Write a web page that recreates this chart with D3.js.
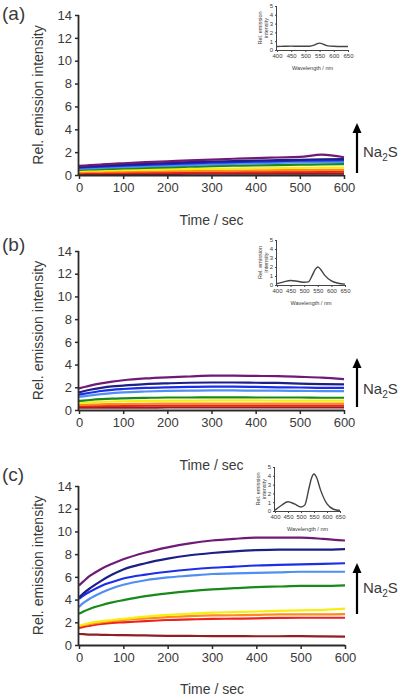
<!DOCTYPE html>
<html><head><meta charset="utf-8">
<script src="https://cdn.jsdelivr.net/npm/d3@7"></script>
<style>body{margin:0;background:#fff}svg{display:block}text{font-family:"Liberation Sans",Arial,sans-serif;fill:#3a3a3a}</style>
</head><body>
<svg id="c" width="400" height="698"></svg>
<script>
const times = [0,10,25,50,75,100,150,200,250,300,350,400,450,500,550,600];
const seriesNames = ["maroon","red","orange","yellow","green","lightblue","blue","navy","purple"];
const seriesColors = ["#8e1f22","#ee2020","#ff8a1c","#f7ee10","#178a1a","#4f8ff2","#1c2ee8","#1c1f86","#701a78"];
const yTicks = [0,2,4,6,8,10,12,14];
const xTicks = [0,100,200,300,400,500,600];
const panelLabels = ["(a)","(b)","(c)"];

// Panel (a)
const aMaroon = [0.08,0.08,0.09,0.09,0.09,0.10,0.10,0.10,0.11,0.11,0.11,0.12,0.12,0.12,0.12,0.12];
const aRed = [0.15,0.16,0.16,0.17,0.18,0.19,0.20,0.21,0.22,0.23,0.24,0.25,0.26,0.27,0.28,0.29];
const aOrange = [0.25,0.26,0.27,0.28,0.29,0.30,0.32,0.34,0.36,0.38,0.39,0.40,0.42,0.43,0.44,0.45];
const aYellow = [0.35,0.36,0.37,0.39,0.41,0.43,0.46,0.49,0.52,0.55,0.57,0.59,0.61,0.63,0.64,0.65];
const aGreen = [0.45,0.46,0.48,0.51,0.54,0.57,0.62,0.67,0.72,0.77,0.81,0.84,0.87,0.90,0.93,0.95];
const aLightblue = [0.55,0.56,0.58,0.62,0.66,0.69,0.75,0.81,0.87,0.93,0.98,1.02,1.06,1.10,1.13,1.15];
const aBlue = [0.65,0.66,0.69,0.73,0.77,0.81,0.88,0.95,1.01,1.07,1.12,1.17,1.21,1.25,1.28,1.30];
const aNavy = [0.72,0.74,0.77,0.82,0.87,0.90,0.98,1.05,1.12,1.18,1.22,1.27,1.30,1.33,1.38,1.40];
const aPurple = [0.80,0.82,0.86,0.92,0.98,1.03,1.12,1.20,1.28,1.35,1.42,1.48,1.53,1.58,1.78,1.55];

// Panel (b)
const bMaroon = [0.20,0.20,0.20,0.21,0.21,0.21,0.21,0.22,0.22,0.22,0.22,0.22,0.22,0.22,0.22,0.22];
const bRed = [0.32,0.33,0.34,0.35,0.36,0.37,0.38,0.38,0.39,0.39,0.39,0.39,0.39,0.38,0.38,0.38];
const bOrange = [0.45,0.46,0.48,0.50,0.52,0.53,0.55,0.56,0.57,0.57,0.57,0.57,0.57,0.56,0.56,0.56];
const bYellow = [0.62,0.64,0.67,0.72,0.75,0.77,0.80,0.82,0.83,0.84,0.84,0.84,0.83,0.83,0.82,0.82];
const bGreen = [0.80,0.83,0.88,0.95,1.00,1.03,1.07,1.10,1.10,1.12,1.12,1.10,1.10,1.10,1.08,1.08];
const bLightblue = [1.15,1.20,1.28,1.40,1.48,1.55,1.63,1.68,1.70,1.72,1.72,1.70,1.70,1.68,1.67,1.67];
const bBlue = [1.35,1.42,1.52,1.67,1.78,1.85,1.95,2.00,2.03,2.05,2.05,2.03,2.00,1.98,1.95,1.95];
const bNavy = [1.55,1.65,1.78,1.95,2.08,2.15,2.28,2.35,2.40,2.42,2.42,2.40,2.38,2.33,2.28,2.25];
const bPurple = [1.90,2.00,2.15,2.35,2.50,2.62,2.78,2.88,2.95,3.02,3.02,3.00,2.98,2.92,2.85,2.72];

// Panel (c)
const cMaroon = [0.97,0.95,0.92,0.90,0.88,0.87,0.84,0.81,0.80,0.78,0.78,0.77,0.77,0.78,0.76,0.73];
const cRed = [1.50,1.60,1.70,1.85,1.95,2.00,2.10,2.20,2.25,2.30,2.32,2.35,2.38,2.40,2.40,2.40];
const cOrange = [1.65,1.75,1.85,2.00,2.10,2.20,2.35,2.45,2.55,2.60,2.62,2.65,2.70,2.70,2.70,2.72];
const cYellow = [1.70,1.80,1.95,2.10,2.20,2.30,2.50,2.65,2.75,2.85,2.90,2.95,3.00,3.05,3.10,3.20];
const cGreen = [2.75,2.95,3.20,3.50,3.75,3.95,4.30,4.55,4.75,4.90,5.00,5.10,5.15,5.20,5.20,5.25];
const cLightblue = [3.35,3.70,4.10,4.60,5.00,5.30,5.70,5.95,6.10,6.25,6.30,6.35,6.40,6.45,6.45,6.45];
const cBlue = [4.05,4.35,4.70,5.20,5.55,5.85,6.20,6.45,6.65,6.80,6.90,7.00,7.05,7.10,7.15,7.20];
const cNavy = [4.20,4.55,5.00,5.65,6.20,6.65,7.20,7.60,7.90,8.10,8.25,8.35,8.40,8.40,8.40,8.45];
const cPurple = [5.25,5.60,6.10,6.70,7.15,7.55,8.15,8.60,8.95,9.20,9.35,9.45,9.45,9.45,9.35,9.20];

// Insets (emission spectra)
const insetWavelengths = [400,425,450,475,500,515,530,540,550,560,575,600,625,650];
const insetA = [0.40,0.42,0.44,0.42,0.42,0.43,0.55,0.70,0.78,0.70,0.50,0.42,0.40,0.40];
const insetB = [0.15,0.35,0.50,0.42,0.30,0.35,1.10,1.70,2.00,1.75,1.10,0.45,0.20,0.10];
const insetC = [0.10,0.65,1.05,0.80,0.45,0.70,2.50,3.70,4.20,3.80,2.40,0.80,0.20,0.05];
const insetXTicks = [400,450,500,550,600,650];
const insetYTicks = [0,1,2,3,4,5];

const panelSeries = [
  [aMaroon,aRed,aOrange,aYellow,aGreen,aLightblue,aBlue,aNavy,aPurple],
  [bMaroon,bRed,bOrange,bYellow,bGreen,bLightblue,bBlue,bNavy,bPurple],
  [cMaroon,cRed,cOrange,cYellow,cGreen,cLightblue,cBlue,cNavy,cPurple]
];
const insetSeries = [insetA, insetB, insetC];

const layouts = [
  {x0:79,x1:344,yB:175,yT:15,lblY:20,titleY:225,arrowB:173,arrowT:123,naY:152,
   ins:{x0:277,x1:348,yB:50,yT:6}},
  {x0:79,x1:344,yB:410,yT:251,lblY:251,titleY:470,arrowB:407,arrowT:358,naY:389,
   ins:{x0:277,x1:345,yB:285,yT:240}},
  {x0:79,x1:345,yB:645,yT:486,lblY:481,titleY:694,arrowB:614,arrowT:563,naY:588,
   ins:{x0:275,x1:340,yB:511,yT:467}}
];

const svg = d3.select("#c");

layouts.forEach((L,pi)=>{
  const g = svg.append("g");
  const x = d3.scaleLinear().domain([0,600]).range([L.x0,L.x1]);
  const y = d3.scaleLinear().domain([0,14]).range([L.yB,L.yT]);

  // curves
  const line = d3.line().x((d,i)=>x(times[i])).y(d=>y(d)).curve(d3.curveMonotoneX);
  panelSeries[pi].forEach((s,si)=>{
    g.append("path").attr("d",line(s)).attr("fill","none")
      .attr("stroke",seriesColors[si]).attr("stroke-width",2.2);
  });

  // axes
  const ya = g.append("g").attr("transform",`translate(${L.x0},0)`)
    .call(d3.axisLeft(y).tickValues(yTicks).tickSize(4).tickPadding(3));
  const xa = g.append("g").attr("transform",`translate(0,${L.yB})`)
    .call(d3.axisBottom(x).tickValues(xTicks).tickSize(4).tickPadding(4));
  [ya,xa].forEach(a=>{
    a.select(".domain").attr("stroke","#2a2a2a").attr("stroke-width",1.8);
    a.selectAll(".tick line").attr("stroke","#2a2a2a").attr("stroke-width",1.5);
    a.selectAll("text").attr("font-size",13).attr("fill","#3a3a3a")
      .attr("font-family","Liberation Sans, Arial, sans-serif");
  });
  ya.select(".domain").attr("d",`M-0.5,${L.yT}V${L.yB}`);
  xa.select(".domain").attr("d",`M${L.x0},0.5H${L.x1}`);

  g.append("text").attr("x",(L.x0+L.x1)/2).attr("y",L.titleY).attr("text-anchor","middle")
    .attr("font-size",14).text("Time / sec");
  g.append("text").attr("transform",`translate(43,${(L.yB+L.yT)/2}) rotate(-90)`)
    .attr("text-anchor","middle").attr("font-size",14).text(pi===2?"Rel. emission  intensity":"Rel. emission intensity");
  g.append("text").attr("x",2).attr("y",L.lblY).attr("font-size",19).attr("fill","#222").text(panelLabels[pi]);

  // arrow
  g.append("line").attr("x1",357).attr("x2",357).attr("y1",L.arrowB).attr("y2",L.arrowT+8)
    .attr("stroke","#000").attr("stroke-width",2.2);
  g.append("path").attr("d",`M${357-4.5},${L.arrowT+10}L357,${L.arrowT}L${357+4.5},${L.arrowT+10}Z`).attr("fill","#000");
  const na = g.append("text").attr("x",363).attr("y",L.naY+5).attr("font-size",15).attr("fill","#222");
  na.append("tspan").text("Na");
  na.append("tspan").attr("font-size",10).attr("dy",4).text("2");
  na.append("tspan").attr("dy",-4).text("S");

  // inset
  const I = L.ins;
  const ix = d3.scaleLinear().domain([400,650]).range([I.x0,I.x1]);
  const iy = d3.scaleLinear().domain([0,5]).range([I.yB,I.yT]);
  const il = d3.line().x((d,i)=>ix(insetWavelengths[i])).y(d=>iy(d)).curve(d3.curveMonotoneX);
  g.append("path").attr("d",il(insetSeries[pi])).attr("fill","none").attr("stroke","#444").attr("stroke-width",1.4);
  const iya = g.append("g").attr("transform",`translate(${I.x0},0)`)
    .call(d3.axisLeft(iy).tickValues(insetYTicks).tickFormat(d3.format("d")).tickSize(2).tickPadding(2));
  const ixa = g.append("g").attr("transform",`translate(0,${I.yB})`)
    .call(d3.axisBottom(ix).tickValues(insetXTicks).tickFormat(d3.format("d")).tickSize(2).tickPadding(2));
  [iya,ixa].forEach(a=>{
    a.select(".domain").attr("stroke","#444").attr("stroke-width",1);
    a.selectAll(".tick line").attr("stroke","#444");
    a.selectAll("text").attr("font-size",6).attr("fill","#555")
      .attr("font-family","Liberation Sans, Arial, sans-serif");
  });
  iya.select(".domain").attr("d",`M-0.5,${I.yT}V${I.yB}`);
  ixa.select(".domain").attr("d",`M${I.x0},0.5H${I.x1}`);
  g.append("text").attr("x",(I.x0+I.x1)/2).attr("y",I.yB+20).attr("text-anchor","middle")
    .attr("font-size",5.5).attr("fill","#666").text("Wavelength / nm");
  const iyl = g.append("text").attr("transform",`translate(${I.x0-14},${(I.yB+I.yT)/2}) rotate(-90)`)
    .attr("text-anchor","middle").attr("font-size",5.5).attr("fill","#666");
  iyl.append("tspan").attr("x",0).attr("dy",-1).text("Rel. emission");
  iyl.append("tspan").attr("x",0).attr("dy",6).text("intensity");
});
</script>
</body></html>
